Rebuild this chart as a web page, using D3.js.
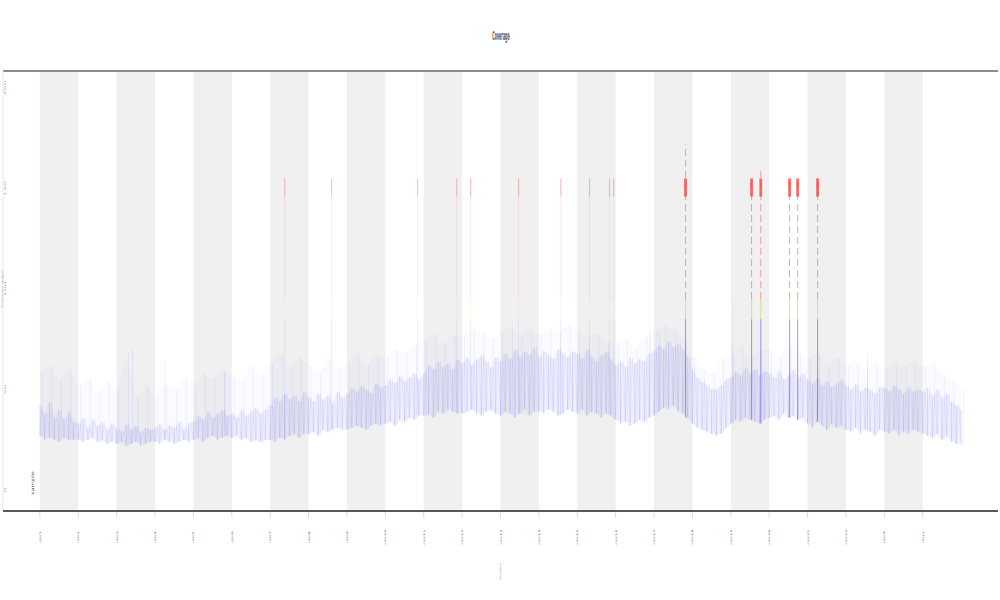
<!DOCTYPE html>
<html><head><meta charset="utf-8">
<script src="https://cdn.jsdelivr.net/npm/d3@7"></script>
<style>body{margin:0;background:#fff}</style>
</head><body><svg id="c" width="1000" height="600"></svg>
<script>
// ---- data ----
const xTickPositions = [0,1,2,3,4,5,6,7,8,9,10,11,12,13,14,15,16,17,18,19,20,21,22,23];
const xTickLabels = ["chr1","chr2","chr3","chr4","chr5","chr6","chr7","chr8","chr9","chr10","chr11","chr12","chr13","chr14","chr15","chr16","chr17","chr18","chr19","chr20","chr21","chr22","chrX","chrY"];
const bandStarts = [0,2,4,6,8,10,12,14,16,18,20,22];
const yTickValues = [0,50,100,150,200];
const yTickLabels = ["0","50","100","150","200"];
const titleText = "Coverage";
const xTitle = "Index";
const yTitle = "Coverage";
const noteText = "sample";

const binStep = 0.125;
const lows = [
27,25,26,25,24,26,25,25, 25,24,25,26,24,25,23,24, 23,24,22,23,24,22,23,24, 24,23,25,24,23,24,25,24,
25,26,24,26,27,25,26,27, 26,27,25,26,24,25,24,25, 25,24,26,25,27,28,26,28, 28,29,27,30,29,30,31,30,
30,31,32,31,30,32,33,32, 33,34,32,35,34,36,35,37, 37,38,36,39,38,40,39,38, 38,39,40,38,37,39,40,38,
37,39,38,36,38,40,37,39, 39,38,40,39,37,38,40,39, 38,40,37,39,38,36,38,37, 35,33,34,32,33,35,34,36,
37,39,41,40,42,39,38,36, 33,31,30,29,28,27,28,31, 33,35,34,36,35,34,33,35, 36,37,35,38,36,37,35,36,
33,31,34,32,30,33,31,32, 30,29,31,28,30,29,27,30, 29,28,30,27,29,28,30,29, 28,27,26,28,25,27,24,23, 23];
const highs = [
42,38,44,36,40,35,39,34, 33,36,31,35,32,34,30,33, 31,29,33,30,32,29,31,30, 31,33,30,32,31,34,30,33,
34,37,35,39,36,38,40,37, 38,36,40,37,39,41,38,40, 42,46,44,48,45,47,44,49, 46,44,48,45,47,43,49,46,
48,51,49,52,50,48,53,51, 52,55,53,57,54,56,58,55, 58,62,60,64,61,63,60,65, 63,66,62,65,67,64,61,66,
64,68,65,70,66,69,67,71, 66,69,67,65,70,68,66,69, 68,65,70,66,64,67,69,65, 62,64,61,66,63,65,64,68,
69,72,70,74,71,73,70,66, 60,56,54,52,50,50,52,55, 56,59,57,61,58,60,57,59, 58,56,59,55,57,60,56,58,
55,53,56,52,54,51,53,55, 52,50,53,49,51,50,48,51, 51,49,52,50,48,51,49,50, 49,51,47,50,46,48,44,42, 40];
const peakStep = 0.25;
const peaks = [
58,62,55,60, 52,56,48,54, 50,68,46,52, 47,53,50,56, 52,58,55,60, 57,54,62,56,
63,68,60,66, 62,58,66,60, 64,68,62,67, 66,70,68,72, 74,78,72,77, 76,80,78,75,
78,82,76,80, 77,80,79,82, 80,76,78,74, 72,75,70,76, 79,82,80,76, 66,60,58,64,
68,72,66,70, 70,66,72,68, 65,68,62,66, 62,64,60,63, 60,63,62,64, 61,63,58,55, 50];

const spikePos    = [2.42,3.26,4.82,6.38,7.60,9.84,10.86,11.22,12.47,13.57,14.32,14.84,14.95,15.89,16.15,16.82,18.05,18.54,18.78,19.53,19.74,20.26,21.56];
const spikeTop    = [70,65,58,155,155,155,155,155,155,155,155,155,155,80,78,172,95,155,160,155,155,155,68];
const spikeStrong = [0,0,0,0,0,0,0,0,0,0,0,0,0,0,0,1,0,1,1,1,1,1,0];
const capRange = [146,155];
const colorZones = [[-20,85,"#4646ee"],[85,95,"#d0d030"],[95,300,"#ff3030"]];

// ---- chart ----
const svg = d3.select("#c");
const x = d3.scaleLinear().domain([-0.96, 24.96]).range([3, 998]);
const y = d3.scaleLinear().domain([-10.45, 208.46]).range([511, 71]);

// bands
svg.append("g").selectAll("rect").data(bandStarts).join("rect")
  .attr("x", d => x(d)).attr("width", d => x(d + 1) - x(d))
  .attr("y", 71).attr("height", 440).attr("fill", "#f0f0f0");

const line = d3.line().x(d => x(d[0])).y(d => y(d[1]));

// faint haze up to peaks
const peakArea = d3.area()
  .x((d, j) => x(j * peakStep))
  .y0((d, j) => y(lows[Math.min(j * 2, lows.length - 1)]))
  .y1(d => y(d));
svg.append("path").attr("d", peakArea(peaks)).attr("fill", "#6a6af4").attr("fill-opacity", 0.025);
svg.append("g").selectAll("line").data(peaks).join("line")
  .attr("x1", (d, j) => x(j * peakStep + 0.06)).attr("x2", (d, j) => x(j * peakStep + 0.06))
  .attr("y1", (d, j) => y(lows[Math.min(j * 2, lows.length - 1)])).attr("y2", d => y(d))
  .attr("stroke", "#4a4af4").attr("stroke-opacity", 0.12).attr("stroke-width", 0.6);

// core haze
const coreArea = d3.area()
  .x((d, i) => x(i * binStep))
  .y0(d => y(d))
  .y1((d, i) => y(highs[i]));
svg.append("path").attr("d", coreArea(lows)).attr("fill", "#6a6af4").attr("fill-opacity", 0.08);
svg.append("g").selectAll("line").data(lows).join("line")
  .attr("x1", (d, i) => x(i * binStep)).attr("x2", (d, i) => x(i * binStep))
  .attr("y1", d => y(d)).attr("y2", (d, i) => y(highs[i]))
  .attr("stroke", "#3c3cf2").attr("stroke-opacity", 0.2).attr("stroke-width", 0.7);

// core zigzag
const corePts = [];
lows.forEach((l, i) => {
  corePts.push([i * binStep, l]);
  if (i < lows.length - 1) corePts.push([i * binStep + binStep / 2, highs[i]]);
});
svg.append("path").attr("d", line(corePts)).attr("fill", "none")
  .attr("stroke", "#3c3cf2").attr("stroke-opacity", 0.1).attr("stroke-width", 0.5);

// spikes, coloured by value zone
const spikes = spikePos.map((p, k) => ({p, top: spikeTop[k], s: spikeStrong[k], base: lows[Math.round(p / binStep)]}));
const segs = [];
spikes.forEach(sp => colorZones.forEach(([a, b, c]) => {
  const lo = Math.max(a, sp.base), hi = Math.min(b, sp.top);
  if (hi > lo) segs.push({p: sp.p, lo, hi, c, s: sp.s, red: a >= 95});
}));
svg.append("g").selectAll("line").data(segs).join("line")
  .attr("x1", d => x(d.p)).attr("x2", d => x(d.p))
  .attr("y1", d => y(d.lo)).attr("y2", d => y(d.hi))
  .attr("stroke", d => d.c).attr("stroke-width", d => d.s ? 1.1 : 0.6)
  .attr("stroke-opacity", d => d.s ? (d.red ? 0.42 : 0.5) : 0.16)
  .attr("stroke-dasharray", d => d.s && d.red ? "7,4" : null);
svg.append("g").selectAll("rect").data(spikes.filter(d => d.top >= capRange[1])).join("rect")
  .attr("x", d => x(d.p) - (d.s ? 1.4 : 0.6)).attr("width", d => d.s ? 2.8 : 1.2)
  .attr("y", y(capRange[1])).attr("height", y(capRange[0]) - y(capRange[1]))
  .attr("fill", "#ff3a3a").attr("fill-opacity", d => d.s ? 0.75 : 0.25);

// frame lines
svg.append("line").attr("x1", 3).attr("x2", 998).attr("y1", 71).attr("y2", 71)
  .attr("stroke", "#8c8c8c").attr("stroke-width", 2);
svg.append("line").attr("x1", 3).attr("x2", 3).attr("y1", 71).attr("y2", 511)
  .attr("stroke", "#e8e8e8").attr("stroke-width", 1);
svg.append("line").attr("x1", 3).attr("x2", 998).attr("y1", 511).attr("y2", 511)
  .attr("stroke", "#222").attr("stroke-width", 1.5);

// x ticks
const xt = svg.append("g");
xt.selectAll("line").data(xTickPositions).join("line")
  .attr("x1", d => x(d)).attr("x2", d => x(d)).attr("y1", 512).attr("y2", 518)
  .attr("stroke", "#d4d4d4").attr("stroke-width", 0.8);
xt.selectAll("text").data(xTickPositions).join("text")
  .attr("transform", d => `translate(${x(d) + 1},537) scale(0.4,1) rotate(-90)`)
  .attr("text-anchor", "middle").attr("font-family", "DejaVu Sans").attr("font-size", 5.5)
  .attr("fill", "#555").text((d, i) => xTickLabels[i]);

// y tick labels
svg.append("g").selectAll("text").data(yTickValues).join("text")
  .attr("transform", d => `translate(6,${y(d)}) scale(0.3,1) rotate(-90)`)
  .attr("text-anchor", "middle").attr("font-family", "DejaVu Sans").attr("font-size", 8)
  .attr("fill", "#999").text((d, i) => yTickLabels[i]);

// titles
svg.append("text").attr("transform", "translate(501,40) scale(0.25,1)")
  .attr("text-anchor", "middle").attr("font-family", "DejaVu Sans").attr("font-size", 13)
  .attr("font-weight", "bold").attr("fill", "#555").text(titleText);
svg.append("text").attr("transform", "translate(501,571) scale(0.3,1) rotate(-90)")
  .attr("text-anchor", "middle").attr("font-family", "DejaVu Sans").attr("font-size", 6)
  .attr("fill", "#888").text(xTitle);
svg.append("text").attr("transform", `translate(2.5,${y(100)}) scale(0.3,1) rotate(-90)`)
  .attr("text-anchor", "middle").attr("font-family", "DejaVu Sans").attr("font-size", 8)
  .attr("fill", "#aaa").text(yTitle);
svg.append("text").attr("transform", "translate(34,483) scale(0.6,1) rotate(-90)")
  .attr("text-anchor", "middle").attr("font-family", "DejaVu Sans").attr("font-size", 6.5)
  .attr("fill", "#555").text(noteText);
</script></body></html>
